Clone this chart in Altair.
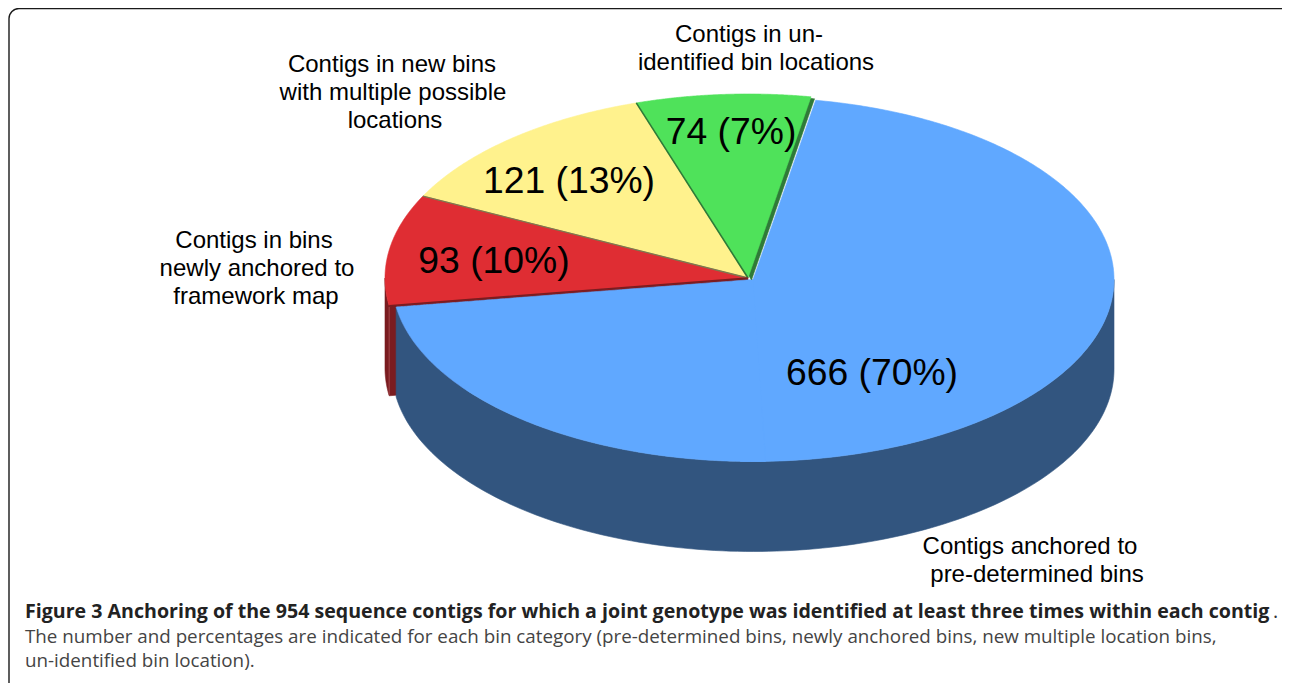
import numpy as np
import pandas as pd
import altair as alt

# --- data ---
categories = ["Contigs anchored", "Contigs newly anchored", "Contigs new bins", "Contigs un-identified"]
counts = [666, 93, 121, 74]
value_labels = ["666 (70%)", "93 (10%)", "121 (13%)", "74 (7%)"]
outer_lines = [
    "Contigs anchored to", "pre-determined bins",
    "Contigs in bins", "newly anchored to", "framework map",
    "Contigs in new bins", "with multiple possible", "locations",
    "Contigs in un-", "identified bin locations",
]
caption_bold = ("Figure 3 Anchoring of the 954 sequence contigs for which a joint genotype "
                "was identified at least three times within each contig")
caption_dot = "."
caption_rest = [
    "The number and percentages are indicated for each bin category (pre-determined bins, "
    "newly anchored bins, new multiple location bins,",
    "un-identified bin location).",
]

# --- layout (in page pixels) ---
W, H = 1274, 675
START = 10.0
CX, CY, RX, RY = 748.0, 278.0, 363.0, 184.0      # small slices
BX, BY, BRX, BRY = 753.0, 279.5, 361.0, 182.0    # main slice, slightly pulled out
DEPTH = 90.0
value_pos = [(872, 374), (494, 262), (569, 182), (731, 133)]
outer_pos = [(1030, 547), (1037, 575), (254, 241), (257, 269), (256, 297),
             (392, 65), (393, 93), (395, 121), (749, 35), (756, 63)]

x_scale = alt.Scale(domain=[8, 8 + W], range=[0, W], nice=False, zero=False)
y_scale = alt.Scale(domain=[8, 8 + H], range=[0, H], nice=False, zero=False)
X = alt.X("x:Q", scale=x_scale, axis=None)
Y = alt.Y("y:Q", scale=y_scale, axis=None)
Y2 = alt.Y2("y2:Q")

# slice angles come from the counts
cum = np.cumsum([0] + counts) / sum(counts) * 360 + START
spans = [(cum[i], cum[i + 1]) for i in range(len(counts))]


def pt(t, cx, cy, rx, ry):
    t = np.radians(t)
    return np.column_stack([cx + rx * np.sin(t), cy - ry * np.cos(t)])


def arc(a, b, cx, cy, rx, ry, n=140):
    return pt(np.linspace(a, b, n), cx, cy, rx, ry)


def band(poly):
    """Turn a polygon into x / y / y2 columns for an area mark."""
    rows = []
    closed = np.vstack([poly, poly[:1]])
    for x in np.unique(poly[:, 0]):
        ys = []
        for (x1, y1), (x2, y2) in zip(closed[:-1], closed[1:]):
            if x1 == x2:
                if x == x1:
                    ys += [y1, y2]
            elif min(x1, x2) <= x <= max(x1, x2):
                ys.append(y1 + (x - x1) * (y2 - y1) / (x2 - x1))
        rows.append({"x": x, "y": min(ys), "y2": max(ys)})
    return pd.DataFrame(rows)


def shape(poly, color):
    return alt.Chart(band(poly)).mark_area(
        color=color, stroke=color, strokeWidth=0.6, interpolate="linear"
    ).encode(x=X, y=Y, y2=Y2)


def sector(a, b, cx=CX, cy=CY, rx=RX, ry=RY):
    return np.vstack([[[cx, cy]], arc(a, b, cx, cy, rx, ry)])


def segment(p, q, color, width):
    df = pd.DataFrame({"x": [p[0], q[0]], "y": [p[1], q[1]]})
    return alt.Chart(df).mark_line(color=color, strokeWidth=width).encode(x=X, y=Y)


(b0, b1), (r0, r1), (y0, y1), (g0, g1) = spans

# main slice wall
wall = arc(90, b1, BX, BY, BRX, BRY)
blue_side = np.vstack([wall, wall[::-1] + [0, DEPTH]])

# red slice wall: outer arc plus its exposed radial face
red_top = arc(270, r0, CX, CY, RX, RY, 30)
red_side = np.vstack([red_top, [[CX, CY]], [[CX, CY + DEPTH]], red_top[::-1] + [0, DEPTH]])
red_corner = pt(np.array([r0]), CX, CY, RX, RY)[0]

green_corner_l = pt(np.array([g0]), CX, CY, RX, RY)[0]
yellow_corner = pt(np.array([y0]), CX, CY, RX, RY)[0]
apex = (CX, CY)

layers = [
    shape(red_side, "#7a1c20"),
    segment(red_corner + [0, 1], red_corner + [0, DEPTH - 1], "#a5474a", 1),
    shape(blue_side, "#32557f"),
    shape(sector(b0, 182, BX, BY, BRX, BRY), "#60a8ff"),
    shape(sector(178, b1, BX, BY, BRX, BRY), "#60a8ff"),
    shape(sector(g0, g1) + [3.5, 2], "#2f7a38"),
    shape(sector(y0, y1), "#fff28d"),
    shape(sector(r0, r1), "#df2d33"),
    shape(sector(g0, g1), "#4fe25a"),
    segment(apex, green_corner_l, "#2f7a38", 1.6),
    segment(apex, yellow_corner, "#7b7b50", 1.3),
    segment(apex, red_corner, "#7a1c20", 1.6),
]

frame = alt.Chart(pd.DataFrame({"k": [1]})).mark_rect(
    fill="transparent", stroke="#1a1a1a", strokeWidth=1.4, cornerRadius=10
).encode(x=alt.value(1), x2=alt.value(W + 20), y=alt.value(0.5), y2=alt.value(H + 20))

values_df = pd.DataFrame({"t": value_labels, "x": [p[0] for p in value_pos], "y": [p[1] for p in value_pos]})
value_text = alt.Chart(values_df).mark_text(
    font="Liberation Sans", fontSize=37.3, color="#000000", align="center", baseline="middle"
).encode(x=X, y=Y, text="t:N")

outer_df = pd.DataFrame({"t": outer_lines, "x": [p[0] for p in outer_pos], "y": [p[1] for p in outer_pos]})
outer_text = alt.Chart(outer_df).mark_text(
    font="Liberation Sans", fontSize=24, color="#000000", align="center", baseline="middle"
).encode(x=X, y=Y, text="t:N")


def caption(lines, xs, ys, weight, color, size):
    df = pd.DataFrame({"t": lines, "x": xs, "y": ys})
    return alt.Chart(df).mark_text(
        font="Open Sans", fontSize=size, fontWeight=weight, color=color, align="left", baseline="middle"
    ).encode(x=X, y=Y, text="t:N")


cap1 = caption([caption_bold], [25], [612], "bold", "#222222", 19.6)
cap2 = caption([caption_dot], [1273], [612], "normal", "#333333", 19.6)
cap3 = caption(caption_rest, [25, 25], [637, 661], "normal", "#444444", 18.8)

chart = alt.layer(frame, *layers, value_text, outer_text, cap1, cap2, cap3).properties(
    width=W, height=H, padding=0, background="white",
    autosize=alt.AutoSizeParams(type="none"),
).configure_view(stroke=None)

chart.save("out.html", embed_options={"renderer": "svg", "actions": False})
